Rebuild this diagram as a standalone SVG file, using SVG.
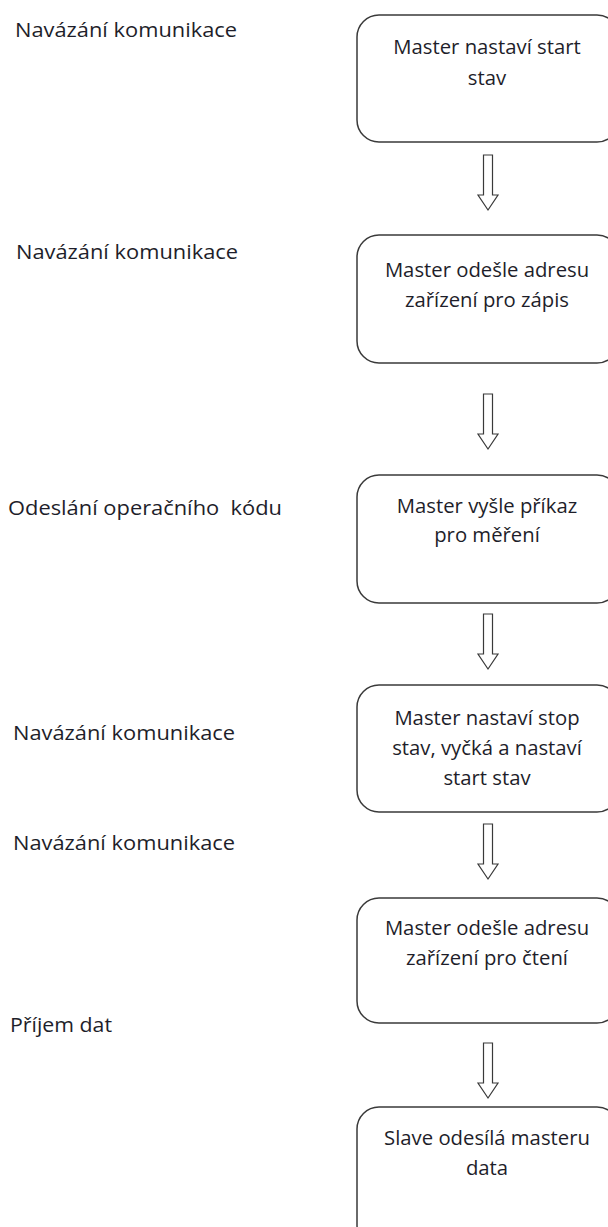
<svg xmlns="http://www.w3.org/2000/svg" width="608" height="1227" viewBox="0 0 608 1227">
  <defs>
    <style>
      .bg { fill: #ffffff; }
      .box { fill: #ffffff; stroke: #3a3a3a; stroke-width: 1.5; }
      .txt { font-family: "Open Sans", "Noto Sans", sans-serif; font-size: 20.3px; fill: #1e1e2a; }
      .ctr { text-anchor: middle; }
      .arrow { fill: #ffffff; stroke: #3a3a3a; stroke-width: 1.2; stroke-linejoin: miter; }
    </style>
    <!-- hollow block arrow pointing down, origin at top centre of the stem -->
    <path id="blockArrow" d="M -4.5 0 L 4.5 0 L 4.5 40 L 10 40 L 0 55 L -10 40 L -4.5 40 Z"/>
  </defs>

  <rect class="bg" x="0" y="0" width="608" height="1227"/>

  <!-- phase labels -->
  <g id="labels">
    <text class="txt" x="15" y="37" textLength="222" lengthAdjust="spacingAndGlyphs">Navázání komunikace</text>
    <text class="txt" x="16" y="259" textLength="222" lengthAdjust="spacingAndGlyphs">Navázání komunikace</text>
    <text class="txt" x="8" y="515" textLength="274" lengthAdjust="spacingAndGlyphs" xml:space="preserve">Odeslání operačního  kódu</text>
    <text class="txt" x="13" y="740" textLength="222" lengthAdjust="spacingAndGlyphs">Navázání komunikace</text>
    <text class="txt" x="13" y="850" textLength="222" lengthAdjust="spacingAndGlyphs">Navázání komunikace</text>
    <text class="txt" x="10" y="1032" textLength="102" lengthAdjust="spacingAndGlyphs">Příjem dat</text>
  </g>

  <!-- steps -->
  <g id="step1">
    <rect class="box" x="357" y="15" width="262" height="127" rx="22" ry="22"/>
    <text class="txt ctr" x="487" y="54">Master nastaví start</text>
    <text class="txt ctr" x="487" y="85">stav</text>
  </g>

  <g id="step2">
    <rect class="box" x="357" y="235" width="262" height="128" rx="22" ry="22"/>
    <text class="txt ctr" x="487" y="277">Master odešle adresu</text>
    <text class="txt ctr" x="487" y="307">zařízení pro zápis</text>
  </g>

  <g id="step3">
    <rect class="box" x="357" y="475" width="262" height="128" rx="22" ry="22"/>
    <text class="txt ctr" x="487" y="513">Master vyšle příkaz</text>
    <text class="txt ctr" x="487" y="542">pro měření</text>
  </g>

  <g id="step4">
    <rect class="box" x="357" y="685" width="262" height="127" rx="22" ry="22"/>
    <text class="txt ctr" x="487" y="725">Master nastaví stop</text>
    <text class="txt ctr" x="487" y="755">stav, vyčká a nastaví</text>
    <text class="txt ctr" x="487" y="785">start stav</text>
  </g>

  <g id="step5">
    <rect class="box" x="357" y="898" width="262" height="125" rx="22" ry="22"/>
    <text class="txt ctr" x="487" y="935">Master odešle adresu</text>
    <text class="txt ctr" x="487" y="965">zařízení pro čtení</text>
  </g>

  <g id="step6">
    <rect class="box" x="357" y="1107" width="262" height="140" rx="22" ry="22"/>
    <text class="txt ctr" x="487" y="1145">Slave odesílá masteru</text>
    <text class="txt ctr" x="487" y="1175">data</text>
  </g>

  <!-- connectors -->
  <g id="connectors">
    <use href="#blockArrow" class="arrow" x="488" y="155"/>
    <use href="#blockArrow" class="arrow" x="488" y="394"/>
    <use href="#blockArrow" class="arrow" x="488" y="614"/>
    <use href="#blockArrow" class="arrow" x="488" y="824"/>
    <use href="#blockArrow" class="arrow" x="488" y="1043"/>
  </g>
</svg>
